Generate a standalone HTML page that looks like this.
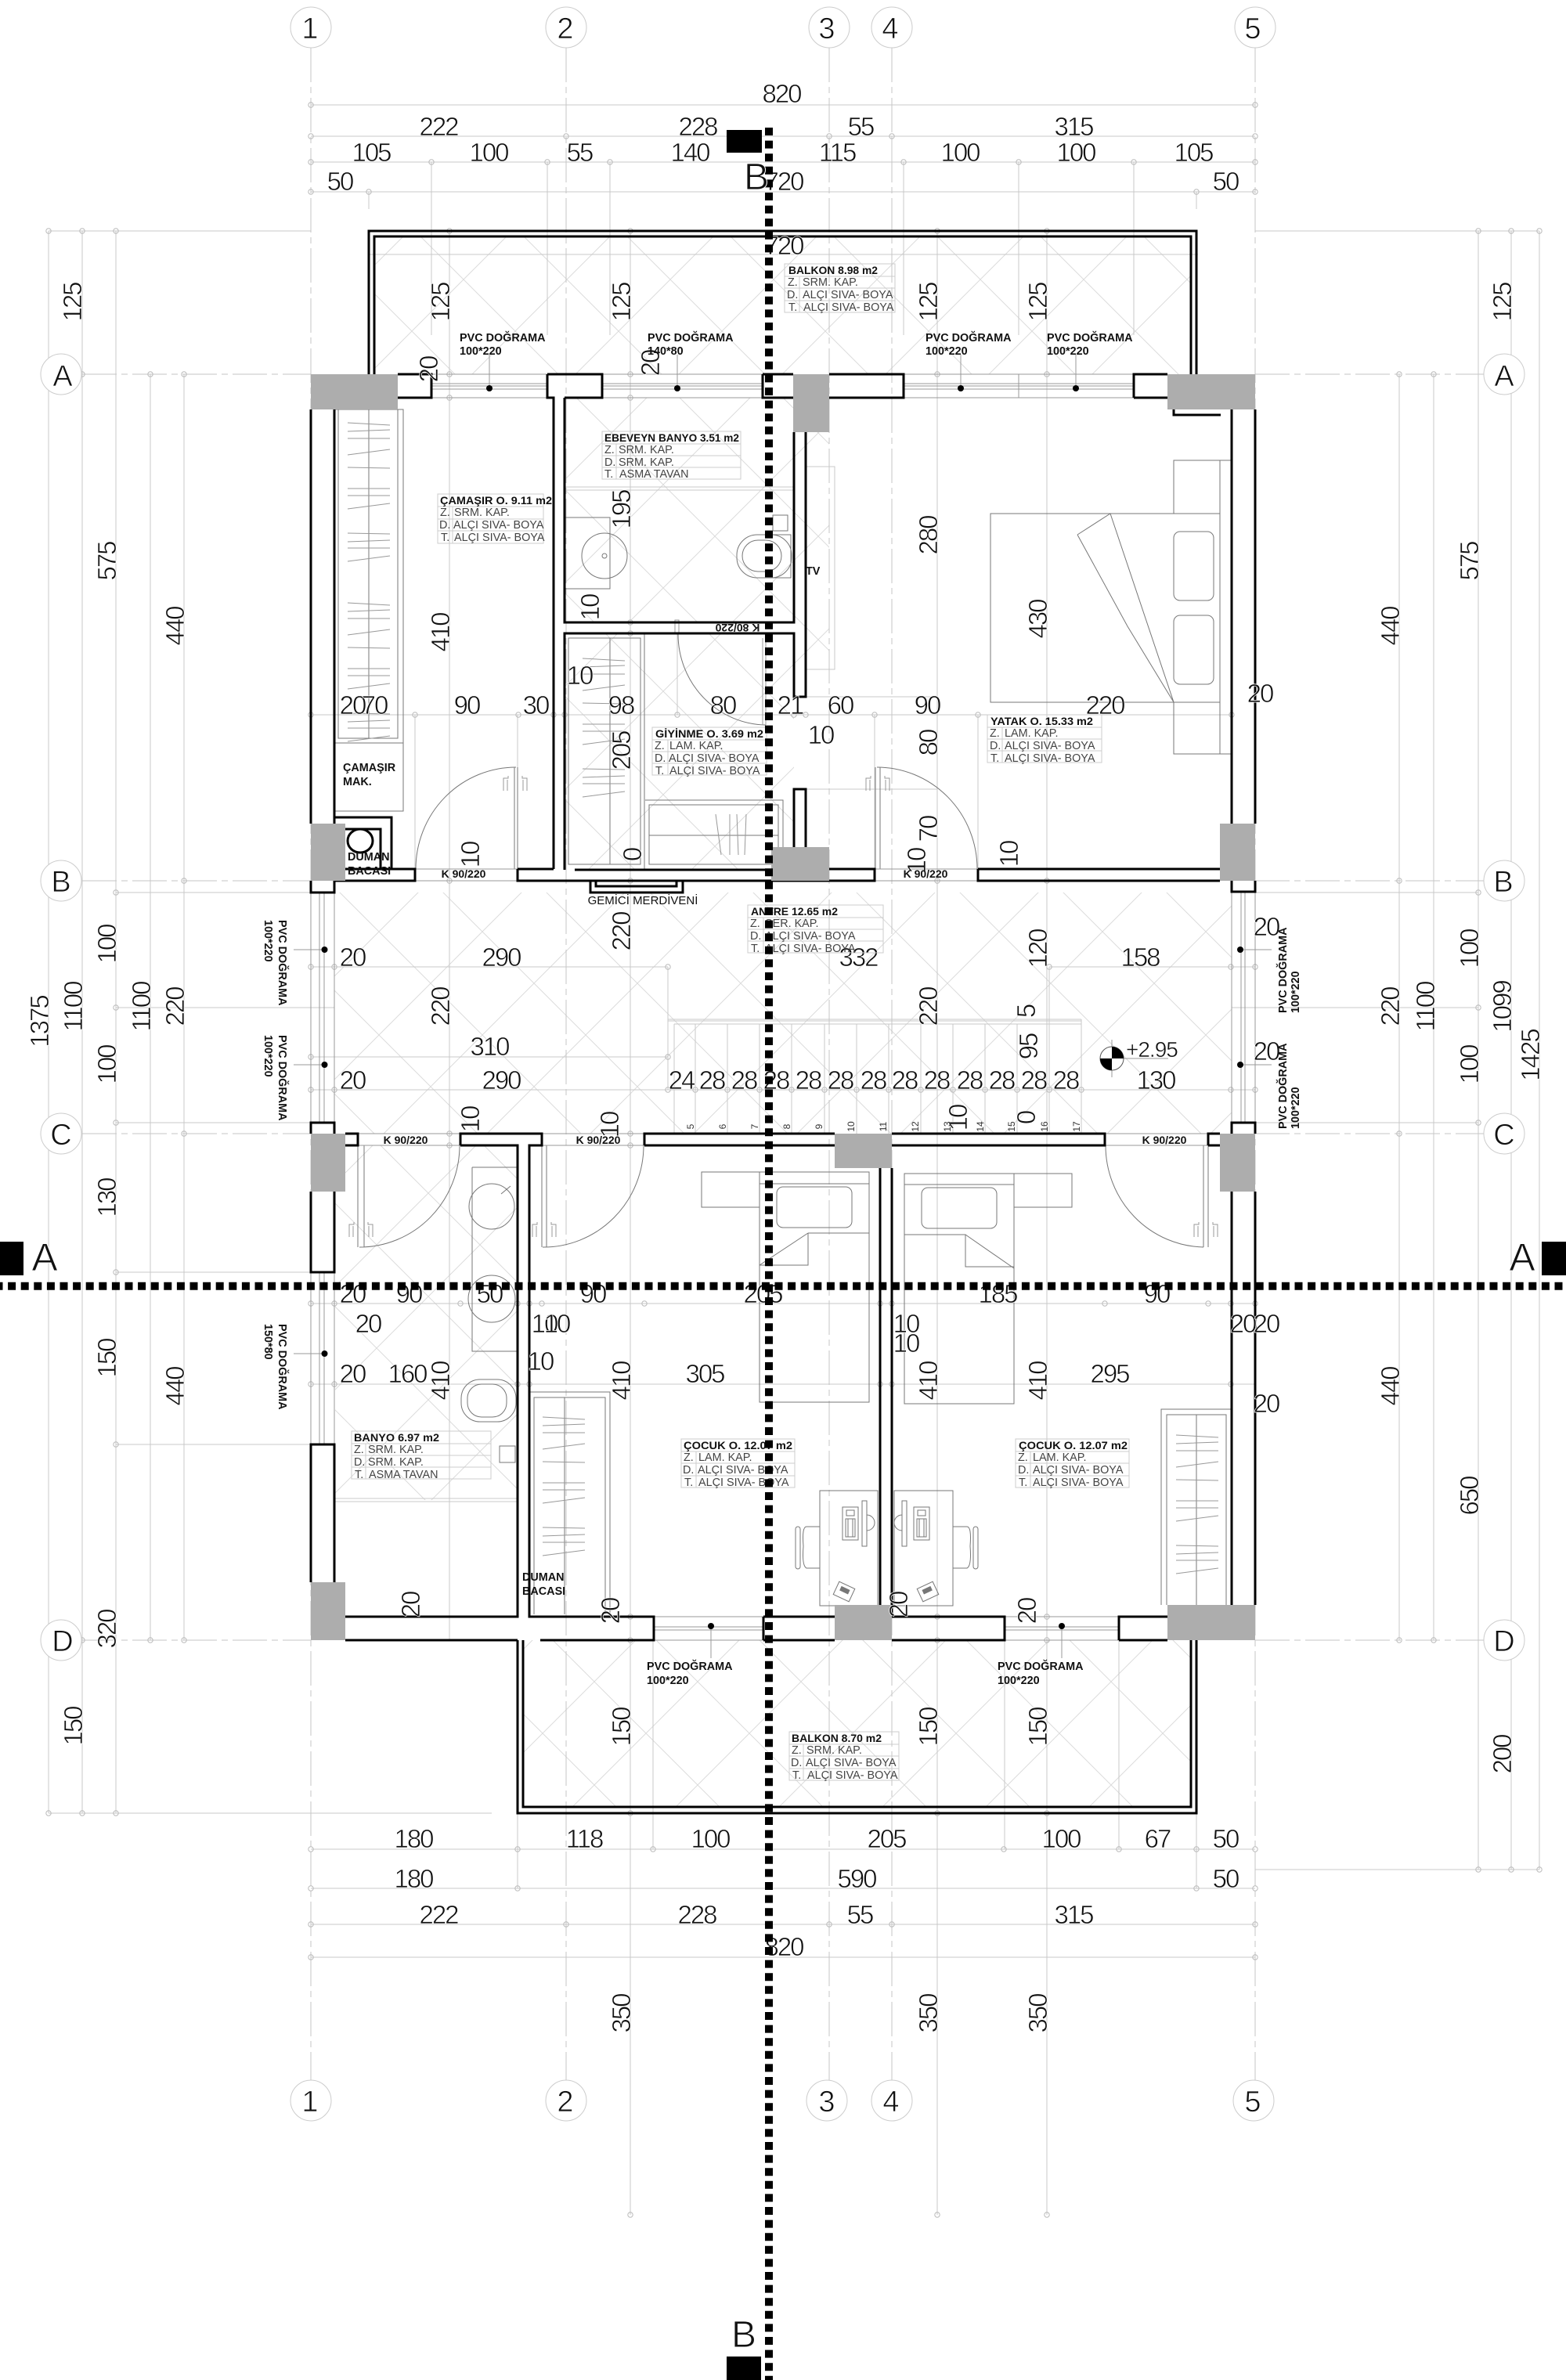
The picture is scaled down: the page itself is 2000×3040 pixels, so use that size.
<!DOCTYPE html>
<html><head><meta charset="utf-8"><title>Kat Plani</title>
<style>
html,body{margin:0;padding:0;background:#fff}
svg{display:block}
text{font-family:"Liberation Sans",sans-serif;fill:#111}
.d{font-size:33px;letter-spacing:-2px;text-anchor:middle;stroke:#fff;stroke-width:.7px}
.g{font-size:38px;text-anchor:middle;stroke:#fff;stroke-width:.8px}
.big{stroke:#fff;stroke-width:1px}
.p{font-size:14.4px;font-weight:bold}
.k{font-size:14px;font-weight:bold;text-anchor:middle}
.t{font-size:13.6px;font-weight:bold}
.r{font-size:14.4px;fill:#444}
.s{font-size:12px;text-anchor:middle;fill:#333}
.tb{fill:none;stroke:#ccc;stroke-width:1}
.w{fill:none;stroke:#000;stroke-width:3;stroke-linejoin:miter}
.l{fill:none;stroke:#c8c8c8;stroke-width:1}
.a{fill:none;stroke:#c4c4c4;stroke-width:1;stroke-dasharray:44 6 8 6}
.f{fill:none;stroke:#777;stroke-width:1}
.h{fill:none;stroke:#999;stroke-width:1}
.c{fill:#fff;stroke:#ccc;stroke-width:1}
.col{fill:#adadad}
.sec{fill:none;stroke:#000;stroke-width:10;stroke-dasharray:10 6.6}
.tk{fill:none;stroke:#bbb;stroke-width:1}
</style></head>
<body>
<svg xmlns="http://www.w3.org/2000/svg" width="2000" height="3040" viewBox="0 0 2000 3040">
<defs>
<path id="tl" d="M0 0L132 132M132 0L0 132" fill="none" stroke="#dcdcdc" stroke-width="1"/>
<pattern id="tile" width="132" height="132" patternUnits="userSpaceOnUse" patternTransform="translate(484 1190)"><use href="#tl"/></pattern>
<pattern id="tile2" width="132" height="132" patternUnits="userSpaceOnUse" patternTransform="translate(913 685)"><use href="#tl"/></pattern>
<pattern id="tile3" width="132" height="132" patternUnits="userSpaceOnUse" patternTransform="translate(724 357)"><use href="#tl"/></pattern>
<pattern id="tile4" width="132" height="132" patternUnits="userSpaceOnUse" patternTransform="translate(759 2148)"><use href="#tl"/></pattern>
<pattern id="tile5" width="132" height="132" patternUnits="userSpaceOnUse" patternTransform="translate(481 1722)"><use href="#tl"/></pattern>
<circle id="o" r="3.2" class="tk"/>
<path id="hang" d="M-27 0L27 3M-27 11L27 9M-27 20H27M-27 41L27 34M-27 57L27 58M-27 84H27M-27 93H27M-27 110L27 103M-27 141L27 142M-27 152L27 150M-27 160H27M-27 177L27 170" class="h"/>
<path id="hd" d="M-15 16V0H-9V-3M9 -3V0H15V16M-10 16V2M10 16V2" class="h"/>
<g id="ic"><rect x="-10" y="-21" width="20" height="42" class="f" fill="none"/><rect x="-5" y="-17" width="10" height="7" class="f"/><path d="M-6 -6H6V17H-6ZM-3 -6V17M3 -6V17" class="f"/></g>
</defs>
<rect width="2000" height="3040" fill="#fff"/>

<!-- tile floors -->
<rect x="478" y="302" width="1043" height="176" fill="url(#tile3)"/>
<rect x="427" y="1140" width="1146" height="308" fill="url(#tile)"/>
<rect x="721" y="508" width="293" height="287" fill="url(#tile2)"/>
<rect x="721" y="809" width="293" height="302" fill="url(#tile2)"/>
<rect x="428" y="1463" width="233" height="453" fill="url(#tile5)"/>
<rect x="668" y="2095" width="853" height="213" fill="url(#tile4)"/>
<rect x="1014" y="552" width="45" height="338" fill="url(#tile2)"/>

<!-- axes -->
<path class="a" d="M397 61V2657M723 61V2657M1059 61V2657M1139 61V2657M1603 61V2657"/>
<path class="a" d="M105 478H397M1603 478H1895M105 1125H397M1603 1125H1895M105 1448H397M1603 1448H1895M105 2095H397M1603 2095H1895"/>

<!-- dimension lines -->
<path class="l" d="M397 134H1603M397 174H1603M397 207H1603M397 245H1603
M551 207V428M699 207V428M779 207V428M1154 207V428M1301 207V428M1448 207V428M471 245V267M1528 245V267M1139 174V207
M62 295H397M1603 295H1966M62 295V2316M105 295V2316M148 295V2316M192 478V2095M235 478V2095
M1787 478V2095M1831 478V2095M1888 295V2388M1930 295V2388M1966 295V2388
M62 2316H628M1603 2388H1966
M148 1140H397M148 1434H397M148 1625H397M148 1845H397M148 1287H427
M1603 1140H1888M1603 1434H1888M1573 1287H1888
M574 295V2095M805 295V2829M1197 295V2829M1337 295V2829
M471 325H1530
M397 913H1573M397 1235H853M1340 1235H1603M397 1350H853M397 1392H1603M397 1665H1603M397 1768H1603
M1340 1235V1392M853 1235V1392M1029 890H1197M1029 1008H1197
M397 2362H1603M397 2412H1603M397 2458H1603M397 2500H1603
M661 2095V2412M834 2095V2362M1283 2095V2362M1429 2095V2362M1528 2316V2412
M530 913V1110M661 913V1110M865 809V913M1117 913V1110M1249 913V1110"/>

<!-- ticks -->
<g>
<use href="#o" x="397" y="134"/><use href="#o" x="1603" y="134"/>
<use href="#o" x="397" y="174"/><use href="#o" x="723" y="174"/><use href="#o" x="1059" y="174"/><use href="#o" x="1139" y="174"/><use href="#o" x="1603" y="174"/>
<use href="#o" x="397" y="207"/><use href="#o" x="551" y="207"/><use href="#o" x="699" y="207"/><use href="#o" x="779" y="207"/><use href="#o" x="1154" y="207"/><use href="#o" x="1301" y="207"/><use href="#o" x="1448" y="207"/><use href="#o" x="1603" y="207"/>
<use href="#o" x="397" y="245"/><use href="#o" x="471" y="245"/><use href="#o" x="1528" y="245"/><use href="#o" x="1603" y="245"/>
<use href="#o" x="62" y="295"/><use href="#o" x="105" y="295"/><use href="#o" x="148" y="295"/><use href="#o" x="574" y="295"/><use href="#o" x="805" y="295"/><use href="#o" x="1197" y="295"/><use href="#o" x="1337" y="295"/><use href="#o" x="1888" y="295"/><use href="#o" x="1930" y="295"/><use href="#o" x="1966" y="295"/>
<use href="#o" x="105" y="478"/><use href="#o" x="192" y="478"/><use href="#o" x="235" y="478"/><use href="#o" x="574" y="478"/><use href="#o" x="805" y="478"/><use href="#o" x="1197" y="478"/><use href="#o" x="1337" y="478"/><use href="#o" x="1787" y="478"/><use href="#o" x="1831" y="478"/><use href="#o" x="1930" y="478"/>
<use href="#o" x="574" y="508"/><use href="#o" x="805" y="508"/><use href="#o" x="805" y="795"/><use href="#o" x="805" y="809"/>
<use href="#o" x="397" y="913"/><use href="#o" x="530" y="913"/><use href="#o" x="662" y="913"/><use href="#o" x="707" y="913"/><use href="#o" x="721" y="913"/><use href="#o" x="865" y="913"/><use href="#o" x="1014" y="913"/><use href="#o" x="1029" y="913"/><use href="#o" x="1117" y="913"/><use href="#o" x="1249" y="913"/><use href="#o" x="1573" y="913"/>
<use href="#o" x="235" y="1125"/><use href="#o" x="1787" y="1125"/><use href="#o" x="148" y="1140"/><use href="#o" x="1888" y="1140"/><use href="#o" x="574" y="1125"/><use href="#o" x="805" y="1125"/><use href="#o" x="1197" y="1125"/><use href="#o" x="1337" y="1125"/>
<use href="#o" x="397" y="1235"/><use href="#o" x="427" y="1235"/><use href="#o" x="853" y="1235"/><use href="#o" x="1340" y="1235"/><use href="#o" x="1572" y="1235"/><use href="#o" x="1603" y="1235"/>
<use href="#o" x="148" y="1287"/><use href="#o" x="1888" y="1287"/>
<use href="#o" x="397" y="1350"/><use href="#o" x="853" y="1350"/>
<use href="#o" x="397" y="1392"/><use href="#o" x="427" y="1392"/><use href="#o" x="853" y="1392"/><use href="#o" x="888" y="1392"/><use href="#o" x="929" y="1392"/><use href="#o" x="970" y="1392"/><use href="#o" x="1011" y="1392"/><use href="#o" x="1053" y="1392"/><use href="#o" x="1094" y="1392"/><use href="#o" x="1135" y="1392"/><use href="#o" x="1176" y="1392"/><use href="#o" x="1217" y="1392"/><use href="#o" x="1258" y="1392"/><use href="#o" x="1299" y="1392"/><use href="#o" x="1340" y="1392"/><use href="#o" x="1381" y="1392"/><use href="#o" x="1572" y="1392"/><use href="#o" x="1603" y="1392"/>
<use href="#o" x="148" y="1434"/><use href="#o" x="1888" y="1434"/><use href="#o" x="235" y="1448"/><use href="#o" x="1787" y="1448"/>
<use href="#o" x="574" y="1448"/><use href="#o" x="805" y="1448"/><use href="#o" x="574" y="1463"/><use href="#o" x="805" y="1463"/>
<use href="#o" x="148" y="1625"/><use href="#o" x="148" y="1845"/>
<use href="#o" x="397" y="1665"/><use href="#o" x="427" y="1665"/><use href="#o" x="588" y="1665"/><use href="#o" x="661" y="1665"/><use href="#o" x="676" y="1665"/><use href="#o" x="692" y="1665"/><use href="#o" x="823" y="1665"/><use href="#o" x="1124" y="1665"/><use href="#o" x="1139" y="1665"/><use href="#o" x="1411" y="1665"/><use href="#o" x="1543" y="1665"/><use href="#o" x="1572" y="1665"/><use href="#o" x="1603" y="1665"/>
<use href="#o" x="397" y="1768"/><use href="#o" x="427" y="1768"/><use href="#o" x="661" y="1768"/><use href="#o" x="676" y="1768"/><use href="#o" x="1124" y="1768"/><use href="#o" x="1139" y="1768"/><use href="#o" x="1572" y="1768"/>
<use href="#o" x="105" y="2095"/><use href="#o" x="192" y="2095"/><use href="#o" x="235" y="2095"/><use href="#o" x="805" y="2065"/><use href="#o" x="805" y="2095"/><use href="#o" x="1197" y="2065"/><use href="#o" x="1197" y="2095"/><use href="#o" x="1337" y="2065"/><use href="#o" x="1337" y="2095"/><use href="#o" x="1787" y="2095"/><use href="#o" x="1831" y="2095"/>
<use href="#o" x="62" y="2316"/><use href="#o" x="105" y="2316"/><use href="#o" x="148" y="2316"/><use href="#o" x="805" y="2316"/><use href="#o" x="1197" y="2316"/><use href="#o" x="1337" y="2316"/>
<use href="#o" x="397" y="2362"/><use href="#o" x="661" y="2362"/><use href="#o" x="834" y="2362"/><use href="#o" x="1282" y="2362"/><use href="#o" x="1429" y="2362"/><use href="#o" x="1528" y="2362"/><use href="#o" x="1603" y="2362"/>
<use href="#o" x="1888" y="2388"/><use href="#o" x="1930" y="2388"/><use href="#o" x="1966" y="2388"/>
<use href="#o" x="397" y="2412"/><use href="#o" x="661" y="2412"/><use href="#o" x="1528" y="2412"/><use href="#o" x="1603" y="2412"/>
<use href="#o" x="397" y="2458"/><use href="#o" x="723" y="2458"/><use href="#o" x="1059" y="2458"/><use href="#o" x="1139" y="2458"/><use href="#o" x="1603" y="2458"/>
<use href="#o" x="397" y="2500"/><use href="#o" x="1603" y="2500"/>
<use href="#o" x="805" y="2829"/><use href="#o" x="1197" y="2829"/><use href="#o" x="1337" y="2829"/>
</g>

<!-- stairs -->
<path d="M853 1302H1381M853 1304H1381M861 1308H1381M1381 1302V1448M861 1308V1448M888 1308V1448M929 1308V1448M970 1308V1448M1011 1308V1448M1053 1308V1448M1094 1308V1448M1135 1308V1448M1176 1308V1448M1217 1308V1448M1258 1308V1448M1299 1308V1448M1340 1308V1448" class="l"/>

<!-- furniture: laundry closet -->
<path class="f" d="M427 523H515V1036H427M432 523V943H508V523M427 949H515M471 523V943"/>
<use href="#hang" x="471" y="540"/><use href="#hang" x="471" y="770" />
<!-- bath master -->
<path class="l" d="M721 622H1014M721 626H1014"/>
<path class="f" d="M721 661H779V752H721"/>
<circle cx="772" cy="710" r="29" class="f"/><circle cx="772" cy="710" r="3" class="f"/>
<rect x="941" y="683" width="70" height="55" rx="26" class="f"/><rect x="948" y="690" width="50" height="40" rx="20" class="f"/>
<path class="f" d="M970 683H1010V738H970"/>
<rect x="987" y="658" width="19" height="20" class="f"/>
<!-- TV -->
<path class="l" d="M1029 596H1066V855H1029"/>
<!-- giyinme -->
<path class="f" d="M726 815H818V1104H726ZM779 815V1104M823 809V1111"/>
<path class="f" d="M824 1022H1000V1106M829 1104V1028H994V1104ZM829 1067H994"/>
<use href="#hang" x="771" y="841"/>
<path class="h" d="M914 1040L921 1092M932 1040V1092M941 1040L943 1092M953 1040L951 1092"/>
<path class="f" d="M866 810A114 116 0 0 0 978 926"/>
<rect x="862" y="792" width="5" height="18" class="h" fill="none"/>
<path class="h" d="M978 926V815M974 926V815"/>
<!-- bedroom -->
<path class="f" d="M1265 656H1558V897H1265ZM1499 588H1558V656H1499ZM1558 588H1573M1558 588V656M1499 897V963H1558V897M1558 963H1573"/>
<rect x="1499" y="679" width="51" height="88" rx="8" class="f"/><rect x="1499" y="786" width="51" height="88" rx="8" class="f"/>
<path class="f" d="M1376 683L1418 656L1499 897M1376 683L1440 800L1499 897"/>
<!-- doors -->
<path class="f" d="M659 980A128 130 0 0 0 531 1110M661 980V1110M657 980V1110"/>
<use href="#hd" x="658" y="994"/>
<path class="f" d="M1120 980A128 130 0 0 1 1248 1110M1118 980V1110M1124 980V1110"/>
<use href="#hd" x="1121" y="994"/>
<path class="f" d="M459 1593A128 130 0 0 0 587 1463M457 1463V1593M465 1463V1593"/>
<use href="#hd" x="461" y="1564"/>
<path class="f" d="M693 1593A128 130 0 0 0 822 1463M692 1463V1593M698 1463V1593"/>
<use href="#hd" x="695" y="1564"/>
<path class="f" d="M1537 1593A128 130 0 0 1 1412 1463M1537 1463V1593M1543 1463V1593"/>
<use href="#hd" x="1540" y="1564"/>
<path class="h" d="M530 1110V1125H661M1117 1110H1249M1117 1125H1249M530 1110H661M457 1448H588M457 1463H588M692 1448H823M692 1463H823M1411 1448H1543M1411 1463H1543"/>
<!-- bath -->
<path class="f" d="M603 1491H661M603 1491V1726H661"/>
<circle cx="628" cy="1541" r="29" class="f"/><circle cx="628" cy="1659" r="30" class="f"/>
<path class="f" d="M640 1525L652 1515"/>
<rect x="589" y="1762" width="70" height="54" rx="24" class="f"/><rect x="597" y="1768" width="50" height="42" rx="18" class="f"/>
<rect x="638" y="1847" width="20" height="21" class="f"/>
<path class="l" d="M428 1914H660M428 1918H660"/>
<!-- child closets -->
<path class="f" d="M676 1778H779V2062M682 2062V1785H773V2062M721 1785V2062"/>
<use href="#hang" x="720" y="1810"/>
<path class="f" d="M1572 1800H1483V2050M1490 2050V1807H1566V2050M1528 1807V2050"/>
<use href="#hang" x="1529" y="1833"/>
<!-- child beds -->
<path class="f" d="M970 1497H1110V1791H970ZM970 1512H1110M896 1497H970V1542H896ZM1032 1575H1110M1032 1575V1616H970M1032 1575L970 1616"/>
<rect x="992" y="1516" width="96" height="52" rx="8" class="f"/>
<path class="f" d="M1155 1499H1295V1793H1155ZM1155 1513H1295M1295 1499H1369V1542H1295ZM1155 1577H1233V1618H1295M1233 1577L1295 1620"/>
<rect x="1177" y="1517" width="96" height="52" rx="8" class="f"/>
<!-- desks -->
<rect x="1047" y="1904" width="74" height="147" class="f"/><rect x="1142" y="1904" width="75" height="147" class="f"/>
<use href="#ic" x="1086" y="1946"/><use href="#ic" x="1177" y="1946"/>
<path class="f" d="M1101 1917H1107V1975H1101ZM1107 1935A10 10 0 0 1 1107 1955M1158 1917H1152V1975H1158ZM1152 1935A10 10 0 0 0 1152 1955"/>
<path class="f" d="M1047 1950H1030Q1024 1950 1026 1975Q1024 2000 1030 2003H1047M1217 1950H1235Q1241 1950 1239 1975Q1241 2000 1235 2003H1217"/>
<rect x="1016" y="1950" width="6" height="54" rx="3" class="f"/><rect x="1243" y="1950" width="6" height="54" rx="3" class="f"/>
<g transform="translate(1078 2033) rotate(25)"><rect x="-11" y="-9" width="22" height="18" class="f"/><rect x="-6" y="-5" width="12" height="6" fill="#777"/></g>
<g transform="translate(1185 2033) rotate(-25)"><rect x="-11" y="-9" width="22" height="18" class="f"/><rect x="-6" y="-5" width="12" height="6" fill="#777"/></g>

<!-- windows -->
<path class="h" d="M551 478H699M551 490H699M551 493H699M551 497H699M551 508H699
M769 478H974M769 490H974M769 493H974M769 497H974M769 508H974
M1154 478H1448M1154 490H1448M1154 493H1448M1154 497H1448M1154 508H1448M1301 478V508
M397 1140V1434M408 1140V1434M414 1140V1434M427 1140V1434
M397 1625V1845M408 1625V1845M414 1625V1845M427 1625V1845
M1573 1140V1434M1585 1140V1434M1590 1140V1434M1603 1140V1434
M835 2065H975M835 2078H975M835 2082H975M835 2095H975
M1283 2065H1429M1283 2078H1429M1283 2082H1429M1283 2095H1429"/>

<!-- walls -->
<path class="w" d="M397 523V1052M427 523V1052M397 1125V1140H427V1125M397 1448V1434H427V1448M397 1522V1625H427V1522M397 2021V1845H427V2021
M1573 523V1052M1603 523V1052M1573 1125V1139H1603V1125M1573 1448V1434H1603V1448M1573 1522V2050M1603 1522V2050
M508 478H551V508H508M699 478H769V508H721M699 478V508H707V1110
M769 478V508M974 478H1013M974 478V508H1014M1059 478H1154V508H1059M1448 508V478H1491M1448 508H1491
M721 508V795H1014V552M721 1111V809H1014V890H1029V552M1014 1082V1008H1029V1082
M734 1111H985
M427 1125H530V1110H441M661 1110H707M661 1110V1125H1117V1110H1059M1249 1110V1125H1558M1249 1110H1558
M427 1044H500V1110M441 1059H486V1110
M754 1125V1140H872V1125M761 1125V1132H864V1125
M441 1448H457V1463H441M588 1463V1448H692V1463H676V2065H835V2095H690M588 1463H661V2065H441M441 2095H661
M823 1463V1448H1066M823 1463H1066M1139 1448H1411V1463H1139M1543 1463V1448H1558M1543 1463H1558
M1124 1492V2050M1139 1492V2065H1283V2095H1139
M975 2065H1066M975 2095H1066M975 2065V2095
M1429 2095V2065H1491M1429 2095H1491
M471 478V295H1528V478M478 478V302H1521V478
M661 2095V2316H1528V2095M668 2095V2308H1521V2095
M1499 523V530H1559"/>
<ellipse cx="460" cy="1074" rx="16" ry="15" fill="none" stroke="#000" stroke-width="3"/>

<!-- columns -->
<g class="col">
<rect x="397" y="478" width="111" height="45"/>
<rect x="1013" y="478" width="46" height="74"/>
<rect x="1491" y="478" width="112" height="45"/>
<rect x="397" y="1052" width="44" height="73"/>
<rect x="985" y="1082" width="74" height="43"/>
<rect x="1558" y="1052" width="45" height="73"/>
<rect x="397" y="1448" width="44" height="74"/>
<rect x="1066" y="1448" width="73" height="44"/>
<rect x="1558" y="1448" width="45" height="74"/>
<rect x="397" y="2021" width="44" height="74"/>
<rect x="1066" y="2050" width="73" height="45"/>
<rect x="1491" y="2050" width="112" height="45"/>
</g>

<!-- windows dots -->
<path class="h" d="M625 453V496M865 453V496M1227 453V496M1374 453V496M908 2077V2118M1356 2077V2118M375 1213H414M375 1360H414M375 1729H414M1584 1213H1624M1584 1360H1624"/>
<g fill="#000">
<circle cx="625" cy="496" r="4"/><circle cx="865" cy="496" r="4"/><circle cx="1227" cy="496" r="4"/><circle cx="1374" cy="496" r="4"/>
<circle cx="908" cy="2077" r="4"/><circle cx="1356" cy="2077" r="4"/>
<circle cx="414.500" cy="1213" r="4"/><circle cx="414.500" cy="1360" r="4"/><circle cx="414.500" cy="1729" r="4"/>
<circle cx="1584" cy="1213" r="4"/><circle cx="1584" cy="1360" r="4"/>
</g>

<!-- level mark -->
<path d="M1405 1352H1492M1420 1328V1376" class="h"/>
<circle cx="1420" cy="1352" r="15" fill="#fff" stroke="#555"/>
<path d="M1420 1337A15 15 0 0 1 1435 1352H1420ZM1420 1367A15 15 0 0 1 1405 1352H1420Z" fill="#000"/>
<text x="1438" y="1350" font-size="28" letter-spacing="-1" stroke="#fff" stroke-width=".5">+2.95</text>

<!-- grid bubbles -->
<g>
<circle cx="397" cy="35" r="26" class="c"/><circle cx="723" cy="35" r="26" class="c"/><circle cx="1059" cy="35" r="26" class="c"/><circle cx="1139" cy="35" r="26" class="c"/><circle cx="1603" cy="35" r="26" class="c"/>
<circle cx="397" cy="2683" r="26" class="c"/><circle cx="723" cy="2683" r="26" class="c"/><circle cx="1056" cy="2683" r="26" class="c"/><circle cx="1139" cy="2683" r="26" class="c"/><circle cx="1601" cy="2683" r="26" class="c"/>
<circle cx="78" cy="478" r="26" class="c"/><circle cx="1921" cy="478" r="26" class="c"/>
<circle cx="78" cy="1125" r="26" class="c"/><circle cx="1921" cy="1125" r="26" class="c"/>
<circle cx="78" cy="1448" r="26" class="c"/><circle cx="1921" cy="1448" r="26" class="c"/>
<circle cx="78" cy="2095" r="26" class="c"/><circle cx="1921" cy="2095" r="26" class="c"/>
</g>
<g>
<text class="g" x="396" y="49">1</text><text class="g" x="722" y="49">2</text><text class="g" x="1056" y="49">3</text><text class="g" x="1137" y="49">4</text><text class="g" x="1600" y="49">5</text>
<text class="g" x="396" y="2697">1</text><text class="g" x="722" y="2697">2</text><text class="g" x="1056" y="2697">3</text><text class="g" x="1138" y="2697">4</text><text class="g" x="1600" y="2697">5</text>
<text class="g" x="80" y="493">A</text><text class="g" x="1921" y="493">A</text>
<text class="g" x="78" y="1139">B</text><text class="g" x="1920" y="1139">B</text>
<text class="g" x="78" y="1462">C</text><text class="g" x="1921" y="1462">C</text>
<text class="g" x="80" y="2109">D</text><text class="g" x="1921" y="2109">D</text>
</g>

<!-- horizontal dims -->
<g>
<text class="d" x="998" y="131">820</text>
<text class="d" x="560" y="173">222</text><text class="d" x="891" y="173">228</text><text class="d" x="1099" y="173">55</text><text class="d" x="1371" y="173">315</text>
<text class="d" x="474" y="206">105</text><text class="d" x="624" y="206">100</text><text class="d" x="740" y="206">55</text><text class="d" x="881" y="206">140</text><text class="d" x="1069" y="206">115</text><text class="d" x="1226" y="206">100</text><text class="d" x="1374" y="206">100</text><text class="d" x="1524" y="206">105</text>
<text class="d" x="434" y="243">50</text><text class="d" x="1001" y="243">720</text><text class="d" x="1565" y="243">50</text>
<text class="d" x="1001" y="325">720</text>
<text class="d" x="450" y="912">20</text><text class="d" x="478" y="912">70</text><text class="d" x="596" y="912">90</text><text class="d" x="684" y="912">30</text><text class="d" x="793" y="912">98</text><text class="d" x="923" y="912">80</text><text class="d" x="1009" y="912">21</text><text class="d" x="1073" y="912">60</text><text class="d" x="1184" y="912">90</text><text class="d" x="1411" y="912">220</text>
<text class="d" x="1609" y="897">20</text><text class="d" x="1048" y="950">10</text><text class="d" x="740" y="874">10</text>
<text class="d" x="450" y="1234">20</text><text class="d" x="640" y="1234">290</text><text class="d" x="1096" y="1234">332</text><text class="d" x="1456" y="1234">158</text>
<text class="d" x="625" y="1348">310</text>
<text class="d" x="450" y="1391">20</text><text class="d" x="640" y="1391">290</text>
<text class="d" x="870" y="1391">24</text><text class="d" x="909" y="1391">28</text><text class="d" x="950" y="1391">28</text><text class="d" x="991" y="1391">28</text><text class="d" x="1032" y="1391">28</text><text class="d" x="1073" y="1391">28</text><text class="d" x="1115" y="1391">28</text><text class="d" x="1155" y="1391">28</text><text class="d" x="1196" y="1391">28</text><text class="d" x="1238" y="1391">28</text><text class="d" x="1279" y="1391">28</text><text class="d" x="1320" y="1391">28</text><text class="d" x="1361" y="1391">28</text>
<text class="d" x="1476" y="1391">130</text>
<text class="d" x="1617" y="1195">20</text><text class="d" x="1617" y="1354">20</text>
<text class="d" x="450" y="1664">20</text><text class="d" x="522" y="1664">90</text><text class="d" x="625" y="1664">50</text><text class="d" x="757" y="1664">90</text><text class="d" x="974" y="1664">205</text><text class="d" x="1274" y="1664">185</text><text class="d" x="1477" y="1664">90</text>
<text class="d" x="470" y="1702">20</text><text class="d" x="695" y="1702">10</text><text class="d" x="711" y="1702">10</text><text class="d" x="1157" y="1702">10</text><text class="d" x="1157" y="1727">10</text><text class="d" x="1587" y="1702">20</text><text class="d" x="1617" y="1702">20</text>
<text class="d" x="690" y="1750">10</text><text class="d" x="1617" y="1804">20</text>
<text class="d" x="450" y="1766">20</text><text class="d" x="520" y="1766">160</text><text class="d" x="900" y="1766">305</text><text class="d" x="1417" y="1766">295</text>
<text class="d" x="528" y="2360">180</text><text class="d" x="746" y="2360">118</text><text class="d" x="907" y="2360">100</text><text class="d" x="1132" y="2360">205</text><text class="d" x="1355" y="2360">100</text><text class="d" x="1478" y="2360">67</text><text class="d" x="1565" y="2360">50</text>
<text class="d" x="528" y="2411">180</text><text class="d" x="1094" y="2411">590</text><text class="d" x="1565" y="2411">50</text>
<text class="d" x="560" y="2457">222</text><text class="d" x="890" y="2457">228</text><text class="d" x="1098" y="2457">55</text><text class="d" x="1371" y="2457">315</text>
<text class="d" x="1001" y="2498">820</text>
</g>

<!-- vertical dims -->
<g>
<text class="d" transform="translate(104 386) rotate(-90)">125</text><text class="d" transform="translate(574 386) rotate(-90)">125</text><text class="d" transform="translate(805 386) rotate(-90)">125</text><text class="d" transform="translate(1197 386) rotate(-90)">125</text><text class="d" transform="translate(1337 386) rotate(-90)">125</text><text class="d" transform="translate(1930 386) rotate(-90)">125</text>
<text class="d" transform="translate(148 717) rotate(-90)">575</text><text class="d" transform="translate(1888 717) rotate(-90)">575</text>
<text class="d" transform="translate(235 800) rotate(-90)">440</text><text class="d" transform="translate(1787 800) rotate(-90)">440</text>
<text class="d" transform="translate(559 472) rotate(-90)">20</text><text class="d" transform="translate(842 464) rotate(-90)">20</text>
<text class="d" transform="translate(805 651) rotate(-90)">195</text><text class="d" transform="translate(765 776) rotate(-90)">10</text>
<text class="d" transform="translate(574 808) rotate(-90)">410</text><text class="d" transform="translate(1197 684) rotate(-90)">280</text><text class="d" transform="translate(1337 791) rotate(-90)">430</text>
<text class="d" transform="translate(805 959) rotate(-90)">205</text><text class="d" transform="translate(1197 949) rotate(-90)">80</text><text class="d" transform="translate(1197 1059) rotate(-90)">70</text><text class="d" transform="translate(1182 1100) rotate(-90)">10</text><text class="d" transform="translate(1300 1091) rotate(-90)">10</text><text class="d" transform="translate(612 1092) rotate(-90)">10</text><text class="d" transform="translate(819 1092) rotate(-90)">0</text>
<text class="d" transform="translate(805 1190) rotate(-90)">220</text><text class="d" transform="translate(148 1206) rotate(-90)">100</text><text class="d" transform="translate(62 1305) rotate(-90)">1375</text><text class="d" transform="translate(105 1286) rotate(-90)">1100</text><text class="d" transform="translate(192 1286) rotate(-90)">1100</text><text class="d" transform="translate(235 1286) rotate(-90)">220</text><text class="d" transform="translate(148 1360) rotate(-90)">100</text><text class="d" transform="translate(148 1530) rotate(-90)">130</text>
<text class="d" transform="translate(574 1286) rotate(-90)">220</text><text class="d" transform="translate(1197 1286) rotate(-90)">220</text><text class="d" transform="translate(1337 1212) rotate(-90)">120</text><text class="d" transform="translate(1322 1292) rotate(-90)">5</text><text class="d" transform="translate(1325 1337) rotate(-90)">95</text>
<text class="d" transform="translate(1888 1212) rotate(-90)">100</text><text class="d" transform="translate(1832 1286) rotate(-90)">1100</text><text class="d" transform="translate(1787 1286) rotate(-90)">220</text><text class="d" transform="translate(1930 1286) rotate(-90)">1099</text><text class="d" transform="translate(1966 1348) rotate(-90)">1425</text><text class="d" transform="translate(1888 1360) rotate(-90)">100</text>
<text class="d" transform="translate(612 1430) rotate(-90)">10</text><text class="d" transform="translate(790 1437) rotate(-90)">10</text><text class="d" transform="translate(1235 1428) rotate(-90)">10</text><text class="d" transform="translate(1322 1428) rotate(-90)">0</text>
<text class="d" transform="translate(574 1764) rotate(-90)">410</text><text class="d" transform="translate(805 1764) rotate(-90)">410</text><text class="d" transform="translate(1197 1764) rotate(-90)">410</text><text class="d" transform="translate(1337 1764) rotate(-90)">410</text>
<text class="d" transform="translate(148 1735) rotate(-90)">150</text><text class="d" transform="translate(235 1771) rotate(-90)">440</text><text class="d" transform="translate(1787 1771) rotate(-90)">440</text><text class="d" transform="translate(148 2081) rotate(-90)">320</text><text class="d" transform="translate(105 2205) rotate(-90)">150</text>
<text class="d" transform="translate(536 2050) rotate(-90)">20</text><text class="d" transform="translate(791 2058) rotate(-90)">20</text><text class="d" transform="translate(1159 2050) rotate(-90)">20</text><text class="d" transform="translate(1323 2058) rotate(-90)">20</text>
<text class="d" transform="translate(805 2206) rotate(-90)">150</text><text class="d" transform="translate(1197 2206) rotate(-90)">150</text><text class="d" transform="translate(1337 2206) rotate(-90)">150</text>
<text class="d" transform="translate(1888 1911) rotate(-90)">650</text><text class="d" transform="translate(1930 2241) rotate(-90)">200</text>
<text class="d" transform="translate(805 2572) rotate(-90)">350</text><text class="d" transform="translate(1197 2572) rotate(-90)">350</text><text class="d" transform="translate(1337 2572) rotate(-90)">350</text>
</g>

<!-- stair numbers -->
<g>
<text class="s" transform="translate(886 1439) rotate(-90)">5</text><text class="s" transform="translate(927 1439) rotate(-90)">6</text><text class="s" transform="translate(968 1439) rotate(-90)">7</text><text class="s" transform="translate(1009 1439) rotate(-90)">8</text><text class="s" transform="translate(1050 1439) rotate(-90)">9</text><text class="s" transform="translate(1091 1439) rotate(-90)">10</text><text class="s" transform="translate(1132 1439) rotate(-90)">11</text><text class="s" transform="translate(1173 1439) rotate(-90)">12</text><text class="s" transform="translate(1214 1439) rotate(-90)">13</text><text class="s" transform="translate(1256 1439) rotate(-90)">14</text><text class="s" transform="translate(1296 1439) rotate(-90)">15</text><text class="s" transform="translate(1338 1439) rotate(-90)">16</text><text class="s" transform="translate(1379 1439) rotate(-90)">17</text>
</g>

<!-- window labels -->
<g>
<text class="p" x="587" y="436">PVC DOĞRAMA</text><text class="p" x="587" y="453">100*220</text>
<text class="p" x="827" y="436">PVC DOĞRAMA</text><text class="p" x="827" y="453">140*80</text>
<text class="p" x="1182" y="436">PVC DOĞRAMA</text><text class="p" x="1182" y="453">100*220</text>
<text class="p" x="1337" y="436">PVC DOĞRAMA</text><text class="p" x="1337" y="453">100*220</text>
<text class="p" x="826" y="2133">PVC DOĞRAMA</text><text class="p" x="826" y="2151">100*220</text>
<text class="p" x="1274" y="2133">PVC DOĞRAMA</text><text class="p" x="1274" y="2151">100*220</text>
<text class="p" transform="translate(356 1175) rotate(90)">PVC DOĞRAMA</text><text class="p" transform="translate(338 1175) rotate(90)">100*220</text>
<text class="p" transform="translate(356 1322) rotate(90)">PVC DOĞRAMA</text><text class="p" transform="translate(338 1322) rotate(90)">100*220</text>
<text class="p" transform="translate(356 1691) rotate(90)">PVC DOĞRAMA</text><text class="p" transform="translate(338 1691) rotate(90)">150*80</text>
<text class="p" transform="translate(1643 1294) rotate(-90)">PVC DOĞRAMA</text><text class="p" transform="translate(1659 1294) rotate(-90)">100*220</text>
<text class="p" transform="translate(1643 1442) rotate(-90)">PVC DOĞRAMA</text><text class="p" transform="translate(1659 1442) rotate(-90)">100*220</text>
</g>

<!-- door labels -->
<g>
<text class="k" x="592" y="1121">K 90/220</text><text class="k" x="1182" y="1121">K 90/220</text>
<text class="k" x="518" y="1461">K 90/220</text><text class="k" x="764" y="1461">K 90/220</text><text class="k" x="1487" y="1461">K 90/220</text>
<text class="k" transform="translate(942 797) rotate(180)">K 80/220</text>
</g>
<text class="p" x="438" y="985">ÇAMAŞIR</text><text class="p" x="438" y="1003">MAK.</text>
<text class="p" x="444" y="1099">DUMAN</text><text class="p" x="444" y="1117">BACASI</text>
<text class="p" x="667" y="2019">DUMAN</text><text class="p" x="667" y="2037">BACASI</text>
<text class="p" x="1029" y="734">TV</text>
<text x="821" y="1155" font-size="15" text-anchor="middle" fill="#333">GEMİCİ MERDİVENİ</text>

<!-- room tables -->
<g transform="translate(769 551)"><path class="tb" d="M0 0H177V61H0ZM0 16H177M0 31H177M0 46H177M18 16V61"/><text class="t" x="3" y="13" textLength="172" lengthAdjust="spacingAndGlyphs">EBEVEYN BANYO 3.51 m2</text><text class="r" x="3" y="28">Z.</text><text class="r" x="21" y="28">SRM. KAP.</text><text class="r" x="3" y="44">D.</text><text class="r" x="21" y="44">SRM. KAP.</text><text class="r" x="3" y="59">T.</text><text class="r" x="22" y="59">ASMA TAVAN</text></g>
<g transform="translate(559 631)"><path class="tb" d="M0 0H135V63H0ZM0 16H135M0 32H135M0 47H135M19 16V63"/><text class="t" x="3" y="13" textLength="143" lengthAdjust="spacingAndGlyphs">ÇAMAŞIR O. 9.11 m2</text><text class="r" x="3" y="28">Z.</text><text class="r" x="21" y="28">SRM. KAP.</text><text class="r" x="2" y="44">D.</text><text class="r" x="20" y="44">ALÇI SIVA- BOYA</text><text class="r" x="4" y="60">T.</text><text class="r" x="21" y="60">ALÇI SIVA- BOYA</text></g>
<g transform="translate(1002 337)"><path class="tb" d="M0 0H141V62H0ZM0 16H141M0 31H141M0 47H141M19 16V62"/><text class="t" x="5" y="13" textLength="114" lengthAdjust="spacingAndGlyphs">BALKON 8.98 m2</text><text class="r" x="4" y="28">Z.</text><text class="r" x="23" y="28">SRM. KAP.</text><text class="r" x="3" y="44">D.</text><text class="r" x="23" y="44">ALÇI SIVA- BOYA</text><text class="r" x="5" y="60">T.</text><text class="r" x="24" y="60">ALÇI SIVA- BOYA</text></g>
<g transform="translate(833 929)"><path class="tb" d="M0 0H146V61H0ZM0 16H146M0 31H146M0 46H146M20 16V61"/><text class="t" x="4" y="13" textLength="138" lengthAdjust="spacingAndGlyphs">GİYİNME O. 3.69 m2</text><text class="r" x="3" y="28">Z.</text><text class="r" x="22" y="28">LAM. KAP.</text><text class="r" x="3" y="44">D.</text><text class="r" x="21" y="44">ALÇI SIVA- BOYA</text><text class="r" x="4" y="60">T.</text><text class="r" x="22" y="60">ALÇI SIVA- BOYA</text></g>
<g transform="translate(1261 913)"><path class="tb" d="M0 0H146V61H0ZM0 16H146M0 31H146M0 46H146M19 16V61"/><text class="t" x="4" y="13" textLength="131" lengthAdjust="spacingAndGlyphs">YATAK O. 15.33 m2</text><text class="r" x="3" y="28">Z.</text><text class="r" x="22" y="28">LAM. KAP.</text><text class="r" x="3" y="44">D.</text><text class="r" x="22" y="44">ALÇI SIVA- BOYA</text><text class="r" x="4" y="60">T.</text><text class="r" x="22" y="60">ALÇI SIVA- BOYA</text></g>
<g transform="translate(955 1156)"><path class="tb" d="M0 0H173V61H0ZM0 16H173M0 31H173M0 46H173M20 16V61"/><text class="t" x="4" y="13" textLength="111" lengthAdjust="spacingAndGlyphs">ANTRE 12.65 m2</text><text class="r" x="3" y="28">Z.</text><text class="r" x="22" y="28">SER. KAP.</text><text class="r" x="3" y="44">D.</text><text class="r" x="22" y="44">ALÇI SIVA- BOYA</text><text class="r" x="4" y="60">T.</text><text class="r" x="22" y="60">ALÇI SIVA- BOYA</text></g>
<g transform="translate(449 1828)"><path class="tb" d="M0 0H178V61H0ZM0 16H178M0 31H178M0 46H178M18 16V61"/><text class="t" x="3" y="13" textLength="109" lengthAdjust="spacingAndGlyphs">BANYO 6.97 m2</text><text class="r" x="3" y="28">Z.</text><text class="r" x="21" y="28">SRM. KAP.</text><text class="r" x="3" y="44">D.</text><text class="r" x="21" y="44">SRM. KAP.</text><text class="r" x="4" y="60">T.</text><text class="r" x="22" y="60">ASMA TAVAN</text></g>
<g transform="translate(870 1838)"><path class="tb" d="M0 0H145V62H0ZM0 16H145M0 31H145M0 47H145M19 16V62"/><text class="t" x="3" y="13" textLength="139" lengthAdjust="spacingAndGlyphs">ÇOCUK O. 12.07 m2</text><text class="r" x="3" y="28">Z.</text><text class="r" x="22" y="28">LAM. KAP.</text><text class="r" x="2" y="44">D.</text><text class="r" x="21" y="44">ALÇI SIVA- BOYA</text><text class="r" x="4" y="60">T.</text><text class="r" x="22" y="60">ALÇI SIVA- BOYA</text></g>
<g transform="translate(1297 1838)"><path class="tb" d="M0 0H145V62H0ZM0 16H145M0 31H145M0 47H145M19 16V62"/><text class="t" x="4" y="13" textLength="139" lengthAdjust="spacingAndGlyphs">ÇOCUK O. 12.07 m2</text><text class="r" x="3" y="28">Z.</text><text class="r" x="22" y="28">LAM. KAP.</text><text class="r" x="3" y="44">D.</text><text class="r" x="22" y="44">ALÇI SIVA- BOYA</text><text class="r" x="4" y="60">T.</text><text class="r" x="22" y="60">ALÇI SIVA- BOYA</text></g>
<g transform="translate(1008 2212)"><path class="tb" d="M0 0H140V62H0ZM0 16H140M0 31H140M0 47H140M18 16V62"/><text class="t" x="3" y="13" textLength="115" lengthAdjust="spacingAndGlyphs">BALKON 8.70 m2</text><text class="r" x="3" y="28">Z.</text><text class="r" x="22" y="28">SRM. KAP.</text><text class="r" x="2" y="44">D.</text><text class="r" x="21" y="44">ALÇI SIVA- BOYA</text><text class="r" x="4" y="60">T.</text><text class="r" x="23" y="60">ALÇI SIVA- BOYA</text></g>

<!-- section lines -->
<path class="sec" d="M982 163V3040"/>
<path class="sec" d="M-6.500 1642.700H2000"/>
<rect x="928" y="166" width="45" height="29" fill="#000"/>
<rect x="928" y="3010" width="44" height="30" fill="#000"/>
<rect x="0" y="1586" width="30" height="43" fill="#000"/>
<rect x="1969" y="1586" width="31" height="43" fill="#000"/>
<text class="big" x="950" y="242" font-size="48">B</text>
<text class="big" x="934" y="2998" font-size="48">B</text>
<text class="big" x="57" y="1623" font-size="50" text-anchor="middle">A</text>
<text class="big" x="1944" y="1623" font-size="50" text-anchor="middle">A</text>
</svg>
</body></html>
